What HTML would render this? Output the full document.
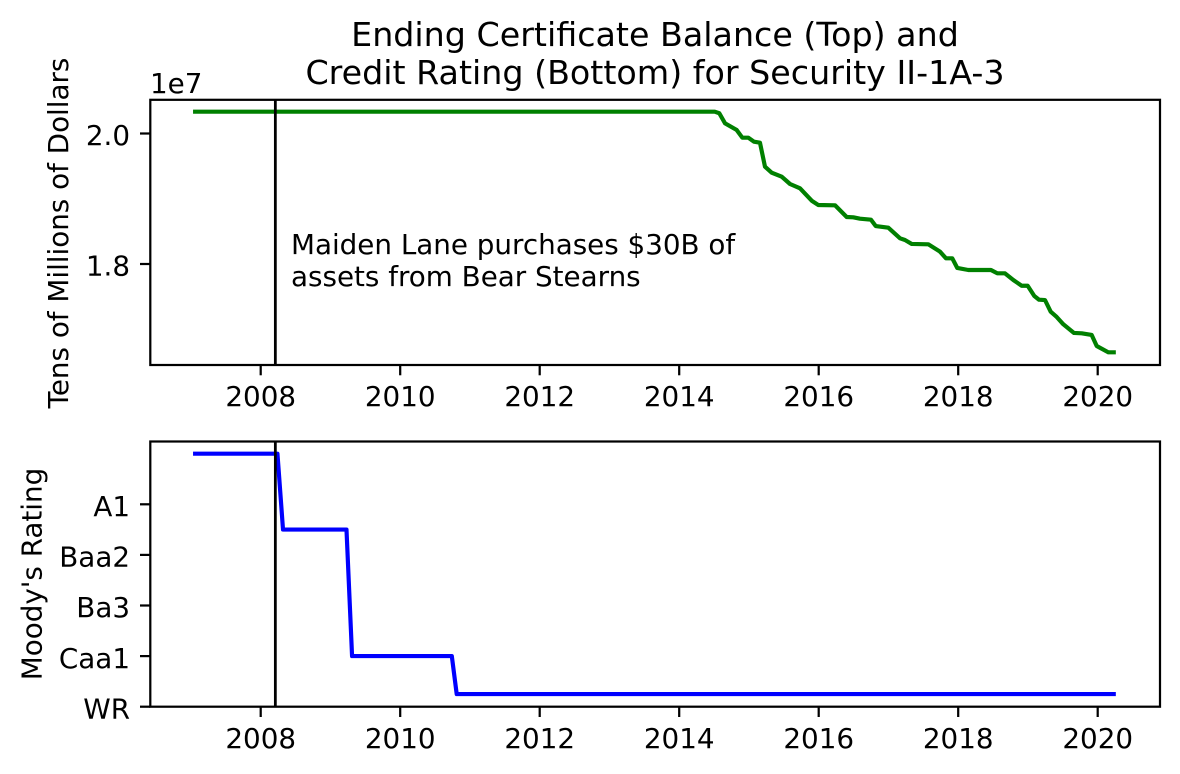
<!DOCTYPE html>
<html>
<head>
<meta charset="utf-8">
<title>Ending Certificate Balance and Credit Rating</title>
<style>
html,body{margin:0;padding:0;background:#fff;}
svg{display:block;}
text{font-family:"DejaVu Sans","Liberation Sans",sans-serif;fill:#000;}
</style>
</head>
<body>
<svg id="chart" xmlns="http://www.w3.org/2000/svg" width="1180" height="774" viewBox="0 0 1180 774">
<rect x="0" y="0" width="1180" height="774" fill="#fff"/>
<text x="655" y="46" font-size="33.3" text-anchor="middle">Ending Certificate Balance (Top) and</text>
<text x="655" y="84" font-size="33.3" text-anchor="middle">Credit Rating (Bottom) for Security II-1A-3</text>
<text x="150" y="93" font-size="27.78">1e7</text>
<text transform="translate(68,233) rotate(-90)" font-size="27.78" text-anchor="middle">Tens of Millions of Dollars</text>
<text transform="translate(41.5,574) rotate(-90)" font-size="27.78" text-anchor="middle">Moody's Rating</text>
<text x="291" y="254" font-size="27.78">Maiden Lane purchases $30B of</text>
<text x="291" y="286" font-size="27.78">assets from Bear Stearns</text>
<g id="marks"></g>
</svg>
<script>
var xTickYears = [2008, 2010, 2012, 2014, 2016, 2018, 2020];
var balanceTicks = [2.0, 1.8];
var balanceTickLabels = ['2.0', '1.8'];
var ratingTicks = [16, 12, 8, 4, 0];
var ratingTickLabels = ['A1', 'Baa2', 'Ba3', 'Caa1', 'WR'];
var eventYear = 2008.21;

var balanceYears = [2007.06, 2014.51, 2014.575, 2014.657, 2014.824, 2014.905, 2014.991, 2015.072, 2015.158, 2015.23, 2015.326, 2015.47, 2015.589, 2015.732, 2015.9, 2015.994, 2016.234, 2016.401, 2016.496, 2016.592, 2016.75, 2016.817, 2016.998, 2017.166, 2017.237, 2017.333, 2017.571, 2017.739, 2017.825, 2017.915, 2017.987, 2018.145, 2018.47, 2018.561, 2018.671, 2018.79, 2018.91, 2018.996, 2019.091, 2019.158, 2019.244, 2019.326, 2019.412, 2019.507, 2019.66, 2019.771, 2019.914, 2019.986, 2020.152, 2020.23];
var balanceValues = [2.0334, 2.0334, 2.031, 2.0156, 2.0054, 1.9936, 1.9936, 1.9874, 1.9859, 1.9491, 1.9399, 1.9338, 1.9226, 1.916, 1.897, 1.8904, 1.89, 1.872, 1.8716, 1.8694, 1.8679, 1.8582, 1.8556, 1.8394, 1.8368, 1.8307, 1.8302, 1.8189, 1.8087, 1.8087, 1.7939, 1.7908, 1.7908, 1.7857, 1.7857, 1.7755, 1.7667, 1.7667, 1.751, 1.7453, 1.7448, 1.7269, 1.7188, 1.7076, 1.6943, 1.6938, 1.6912, 1.6743, 1.6647, 1.6647];

var ratingYears = [2007.06, 2008.24, 2008.32, 2009.23, 2009.31, 2010.74, 2010.81, 2020.23];
var ratingValues = [20, 20, 14, 14, 4, 4, 1, 1];

function xScale(year) { return 260.7 + (year - 2008) * 69.75; }
function yBalance(v) { return 133.5 + (2.0 - v) * 652.5; }
function yRating(v) { return 706.7 - v * 12.65; }

var NS = 'http://www.w3.org/2000/svg';
var marks = document.getElementById('marks');

function make(tag, attrs) {
  var el = document.createElementNS(NS, tag);
  for (var k in attrs) { el.setAttribute(k, attrs[k]); }
  marks.appendChild(el);
  return el;
}

function pointsFrom(xs, ys, yFn) {
  var out = [];
  for (var i = 0; i < xs.length; i++) {
    out.push(xScale(xs[i]).toFixed(2) + ',' + yFn(ys[i]).toFixed(2));
  }
  return out.join(' ');
}

var lineBalance = make('polyline', {points: pointsFrom(balanceYears, balanceValues, yBalance), fill: 'none', stroke: '#008000', 'stroke-width': 4.17, 'stroke-linejoin': 'round', 'stroke-linecap': 'square'});



var lineRating = make('polyline', {points: pointsFrom(ratingYears, ratingValues, yRating), fill: 'none', stroke: '#0000ff', 'stroke-width': 4.17, 'stroke-linejoin': 'round', 'stroke-linecap': 'square'});



var eventTop = make('line', {x1: xScale(eventYear), x2: xScale(eventYear), y1: 100, y2: 365, stroke: '#000', 'stroke-width': 2.78});



var eventBottom = make('line', {x1: xScale(eventYear), x2: xScale(eventYear), y1: 441.5, y2: 706.7, stroke: '#000', 'stroke-width': 2.78});



var frameTop = make('rect', {x: 150.3, y: 99.8, width: 1009.7, height: 265.2, fill: 'none', stroke: '#000', 'stroke-width': 2.22});



var frameBottom = make('rect', {x: 150.3, y: 441.5, width: 1009.7, height: 265.2, fill: 'none', stroke: '#000', 'stroke-width': 2.22});



xTickYears.forEach(function (year) {
  var x = xScale(year);

  var tickA = make('line', {x1: x, x2: x, y1: 365, y2: 375.3, stroke: '#000', 'stroke-width': 2.22});
  
  

  var labelA = make('text', {x: x, y: 406, 'font-size': 27.78, 'text-anchor': 'middle'});
  
  
  labelA.textContent = String(year);

  var tickB = make('line', {x1: x, x2: x, y1: 706.7, y2: 717, stroke: '#000', 'stroke-width': 2.22});
  
  

  var labelB = make('text', {x: x, y: 748, 'font-size': 27.78, 'text-anchor': 'middle'});
  
  
  labelB.textContent = String(year);
});

balanceTicks.forEach(function (v, i) {
  var y = yBalance(v);

  var tick = make('line', {x1: 140, x2: 150.3, y1: y, y2: y, stroke: '#000', 'stroke-width': 2.22});
  
  

  var label = make('text', {x: 130, y: y + 11.7, 'font-size': 27.78, 'text-anchor': 'end'});
  
  
  label.textContent = balanceTickLabels[i];
});

ratingTicks.forEach(function (v, i) {
  var y = yRating(v);

  var tick = make('line', {x1: 140, x2: 150.3, y1: y, y2: y, stroke: '#000', 'stroke-width': 2.22});
  
  

  var label = make('text', {x: 130, y: y + 11.7, 'font-size': 27.78, 'text-anchor': 'end'});
  
  
  label.textContent = ratingTickLabels[i];
});
</script>
</body>
</html>
